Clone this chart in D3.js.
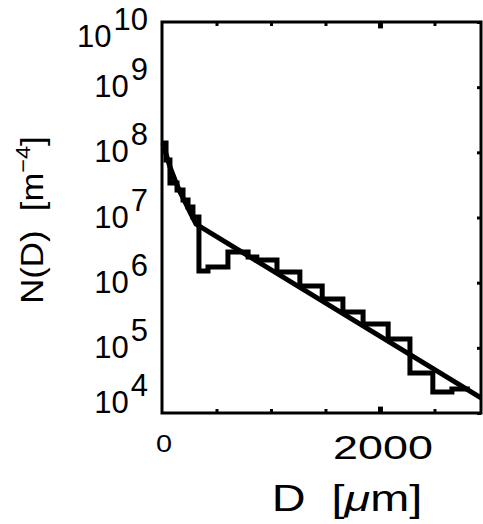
<!DOCTYPE html>
<html>
<head>
<meta charset="utf-8">
<script src="https://cdn.jsdelivr.net/npm/d3@7"></script>
<style>
    body { margin: 0; background: #fff; }
    text { font-family: "Liberation Sans", Arial, sans-serif; fill: #000; white-space: pre; }
</style>
</head>
<body>
<script>
// histogram: bin edges [um] (one more than values) and N(D) [m^-4]
const binEdges = [0, 37, 73, 138, 193, 239, 284, 339, 422, 605, 790, 870, 1055, 1265, 1470, 1660, 1845, 2075, 2275, 2485, 2660, 2825];
const binValues = [1.39e8, 7.62e7, 3.38e7, 2.64e7, 1.85e7, 1.45e7, 1.02e7, 1.51e6, 1.74e6, 2.95e6, 2.48e6, 2.23e6, 1.46e6, 8.89e5, 5.61e5, 3.55e5, 2.32e5, 1.37e5, 4.11e4, 2.10e4, 2.33e4];

// fitted curve
const fitD = [9, 37, 73, 119, 165, 211, 257, 312, 2927];
const fitN = [1.39e8, 9.42e7, 5.96e7, 3.76e7, 2.46e7, 1.73e7, 1.21e7, 7.94e6, 1.70e4];

const yExponents = [4, 5, 6, 7, 8, 9, 10];
const xMinorTicks = [500, 1000, 1500, 2000, 2500];
const xLabels = ['0', '2000'];

const width = 483;
const height = 524;
const margin = {
    left: 162,
    right: 2,
    top: 22,
    bottom: 111
};
const w = width - margin.left - margin.right;
const h = height - margin.top - margin.bottom;

const x = d3.scaleLinear()
      .domain([0, 2927])
      .range([0, w]);

const y = d3.scaleLog()
      .domain([1e4, 1e10])
      .range([h, 0]);

const svg = d3.select('body')
      .append('svg')
      .attr('width', width)
      .attr('height', height);

const chartGroup = svg.append('g')
      .attr('transform', `translate(${margin.left}, ${margin.top})`);

// ticks, pointing inward
chartGroup.append('g')
    .attr('transform', `translate(0, ${h})`)
    .call(d3.axisTop(x).tickValues(xMinorTicks).tickSize(4).tickFormat(''))
    .call(g => g.select('.domain').remove());
chartGroup.append('g')
    .call(d3.axisBottom(x).tickValues(xMinorTicks).tickSize(4).tickFormat(''))
    .call(g => g.select('.domain').remove());
chartGroup.append('g')
    .attr('transform', `translate(${w}, 0)`)
    .call(d3.axisLeft(y).tickValues(yExponents.map(e => Math.pow(10, e))).tickSize(4).tickFormat(''))
    .call(g => g.select('.domain').remove());
chartGroup.selectAll('.tick line')
    .attr('stroke', '#000')
    .attr('stroke-width', 3);
// the 2000 tick is drawn heavier
chartGroup.selectAll('.tick')
    .filter(d => d === 2000)
    .select('line')
    .attr('stroke-width', 5)
    .attr('y2', function() { return +d3.select(this).attr('y2') * 1.6; });

// y tick labels 10^n
chartGroup.selectAll('text.ylab')
    .data(yExponents)
    .enter()
    .append('text')
    .attr('class', 'ylab')
    .attr('x', -14)
    .attr('y', d => y(Math.pow(10, d)) + 10 + (d === 10 ? 15 : 0) + (d === 4 ? -10 : 0))
    .attr('text-anchor', 'end')
    .style('font-size', '31px')
    .each(function(d) {
	const t = d3.select(this);
	t.append('tspan').text('10');
	t.append('tspan').attr('dx', 2).attr('dy', -17).text(d);
    });

// x tick labels (stretched wide as in the original)
chartGroup.append('text')
    .attr('transform', `translate(${x(0) + 2}, ${h + 39}) scale(1.2, 1)`)
    .attr('text-anchor', 'middle')
    .style('font-size', '24px')
    .text(xLabels[0]);
chartGroup.append('text')
    .attr('transform', `translate(${x(2000) + 3}, ${h + 46}) scale(1.36, 1)`)
    .attr('text-anchor', 'middle')
    .style('font-size', '33px')
    .text(xLabels[1]);

// axis titles
svg.append('text')
    .attr('transform', 'translate(347, 511) scale(1.3, 1)')
    .attr('text-anchor', 'middle')
    .style('font-size', '36px')
    .html('D  [<tspan font-style="italic">μ</tspan>m]');

svg.append('text')
    .attr('transform', 'translate(43, 220) rotate(-90) scale(1.12, 1)')
    .attr('text-anchor', 'middle')
    .style('font-size', '31px')
    .html('N(D)  [m<tspan dy="-13" font-size="21px">−4</tspan><tspan dy="13">]</tspan>');

// histogram
const stepPoints = binValues.map((v, i) => [binEdges[i], v]);
stepPoints.push([binEdges[binEdges.length - 1], binValues[binValues.length - 1]]);

const stepLine = d3.line()
      .x(d => x(d[0]))
      .y(d => y(d[1]))
      .curve(d3.curveStepAfter);

chartGroup.append('path')
    .attr('d', stepLine(stepPoints))
    .attr('fill', 'none')
    .attr('stroke', '#000')
    .attr('stroke-width', 5)
    .attr('stroke-linejoin', 'miter');

// fit
const fitLine = d3.line()
      .x((d, i) => x(fitD[i]))
      .y(d => y(d));

chartGroup.append('path')
    .attr('d', fitLine(fitN))
    .attr('fill', 'none')
    .attr('stroke', '#000')
    .attr('stroke-width', 5);

// frame
chartGroup.append('rect')
    .attr('width', w)
    .attr('height', h)
    .attr('fill', 'none')
    .attr('stroke', '#000')
    .attr('stroke-width', 3);
</script>
</body>
</html>
